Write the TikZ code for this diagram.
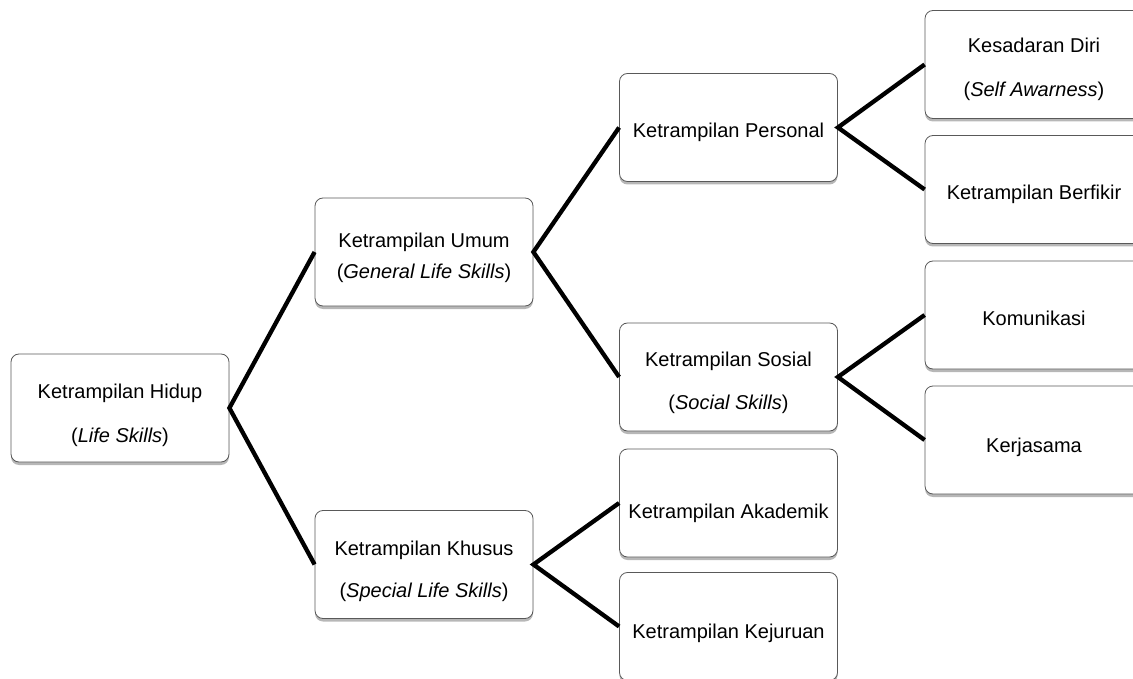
\documentclass[tikz,border=0pt]{standalone}
\usepackage{fontspec}
\setmainfont{Liberation Sans}
\usetikzlibrary{shadows}
\begin{document}
\begin{tikzpicture}[x=1pt,y=-1pt,
  box/.style={draw=black!65, line width=0.8pt, fill=white, rounded corners=8pt,
    minimum width=218pt, minimum height=108pt, inner sep=0pt,
    drop shadow={shadow xshift=0pt, shadow yshift=-3pt, opacity=0.4, fill=black!70}},
  txt/.style={anchor=base, inner sep=0pt, font=\fontsize{20}{24}\selectfont, text=black},
  conn/.style={line width=4.3pt, black, line join=miter}]
\useasboundingbox (0,0) rectangle (1133,679);
\clip (0,0) rectangle (1133,679);
% boxes
\node[box] (hid) at (120,408) {};
\node[box] (umu) at (424,252) {};
\node[box] (khu) at (424,564.5) {};
\node[box] (per) at (728.5,127.5) {};
\node[box] (sos) at (728.5,377) {};
\node[box] (aka) at (728.5,503) {};
\node[box] (kej) at (728.5,626.5) {};
\node[box] (kes) at (1034,64.5) {};
\node[box] (ber) at (1034,189.5) {};
\node[box] (kom) at (1034,315) {};
\node[box] (ker) at (1034,440) {};
% connectors
\draw[conn] (umu.west) -- (hid.east) -- (khu.west);
\draw[conn] (per.west) -- (umu.east) -- (sos.west);
\draw[conn] (aka.west) -- (khu.east) -- (kej.west);
\draw[conn] (kes.west) -- (per.east) -- (ber.west);
\draw[conn] (kom.west) -- (sos.east) -- (ker.west);
% texts
\node[txt] (t1a) at (120,398) {Ketrampilan Hidup};
\node[txt] (t1b) at (120,442) {(\textit{Life Skills})};
\node[txt] (t2a) at (424,248) {Ketrampilan Umum};
\node[txt] (t2b) at (424,279) {(\textit{General Life Skills})};
\node[txt] (t3a) at (424,555) {Ketrampilan Khusus};
\node[txt] (t3b) at (424,597) {(\textit{Special Life Skills})};
\node[txt] (t4) at (728.5,138) {Ketrampilan Personal};
\node[txt] (t5a) at (728.5,366) {Ketrampilan Sosial};
\node[txt] (t5b) at (728.5,409) {(\textit{Social Skills})};
\node[txt] (t6) at (728.5,518) {Ketrampilan Akademik};
\node[txt] (t7) at (728.5,638) {Ketrampilan Kejuruan};
\node[txt] (t8a) at (1034,53) {Kesadaran Diri};
\node[txt] (t8b) at (1034,97) {(\textit{Self Awarness})};
\node[txt] (t9) at (1034,200) {Ketrampilan Berfikir};
\node[txt] (t10) at (1034,325) {Komunikasi};
\node[txt] (t11) at (1034,452) {Kerjasama};
\end{tikzpicture}
\end{document}
